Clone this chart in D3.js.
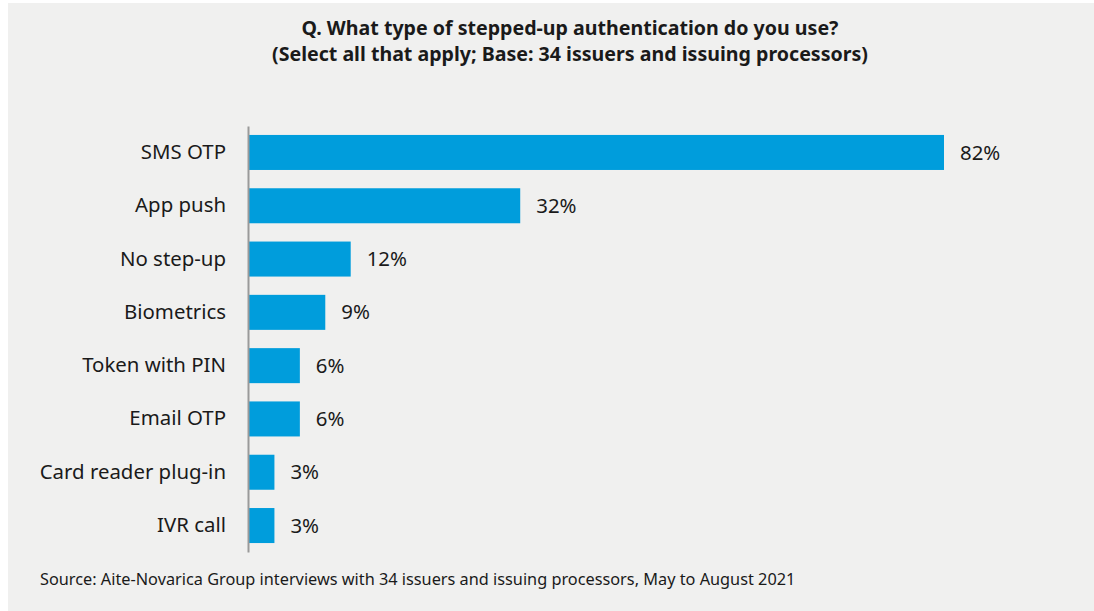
<!DOCTYPE html>
<html>
<head>
<meta charset="utf-8">
<script src="https://cdn.jsdelivr.net/npm/d3@7"></script>
<style>
  html, body { margin: 0; padding: 0; background: #ffffff; }
  svg { display: block; }
</style>
</head>
<body>
<svg id="chart" width="1094" height="611"></svg>
<script>
// Stepped-up authentication methods used (share of respondents, %)
const categories = ["SMS OTP", "App push", "No step-up", "Biometrics", "Token with PIN", "Email OTP", "Card reader plug-in", "IVR call"];
const values = [82, 32, 12, 9, 6, 6, 3, 3];
const titleLines = [
  "Q. What type of stepped-up authentication do you use?",
  "(Select all that apply; Base: 34 issuers and issuing processors)"
];
const sourceText = "Source: Aite-Novarica Group interviews with 34 issuers and issuing processors, May to August 2021";

const W = 1094, H = 611;
const font = "'Noto Sans', 'Open Sans', sans-serif";
const svg = d3.select("#chart");

// panel background
svg.append("rect").attr("x", 8).attr("y", 3).attr("width", W - 8).attr("height", H - 3).attr("fill", "#f0f0ef");

// title
svg.append("g").selectAll("text").data(titleLines).join("text")
  .attr("x", 570).attr("y", (d, i) => 35 + i * 26)
  .attr("text-anchor", "middle")
  .attr("font-family", font).attr("font-weight", "bold").attr("font-size", 19.6)
  .attr("fill", "#1a1a1a")
  .text(d => d);

const x0 = 249;
const x = d3.scaleLinear().domain([0, 82]).range([x0, 944]);
const y = d3.scaleBand().domain(categories).range([126, 552]).paddingInner(0.343).paddingOuter(0.168);

// bars
svg.append("g").selectAll("rect").data(values).join("rect")
  .attr("x", x(0))
  .attr("y", (d, i) => y(categories[i]))
  .attr("width", d => x(d) - x(0))
  .attr("height", y.bandwidth())
  .attr("fill", "#009ddc");

// vertical category axis
const axis = d3.axisLeft(y).tickSize(0).tickPadding(22);
const ag = svg.append("g").attr("transform", `translate(${x0 - 1},0)`).call(axis);
ag.select(".domain").attr("stroke", "#9a9a9a").attr("stroke-width", 2);
ag.selectAll(".tick text")
  .attr("font-family", font).attr("font-size", 20.4).attr("fill", "#1a1a1a");

// value labels
svg.append("g").selectAll("text").data(values).join("text")
  .attr("x", d => x(d) + 16)
  .attr("y", (d, i) => y(categories[i]) + y.bandwidth() / 2)
  .attr("dy", "0.35em")
  .attr("font-family", font).attr("font-size", 20.4).attr("fill", "#1a1a1a")
  .text(d => d + "%");

// source note
svg.append("text")
  .attr("x", 40).attr("y", 585)
  .attr("font-family", font).attr("font-size", 16.3).attr("fill", "#1a1a1a")
  .text(sourceText);
</script>
</body>
</html>
